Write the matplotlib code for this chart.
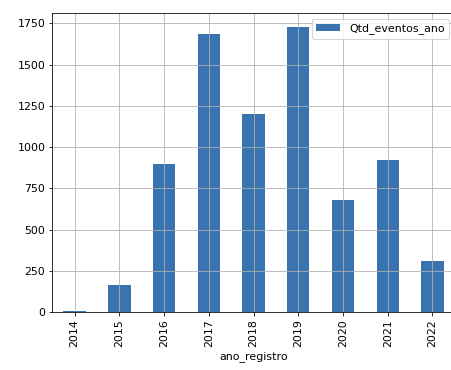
import matplotlib
matplotlib.use("Agg")
import matplotlib.pyplot as plt
import pandas as pd

anos = ["2014", "2015", "2016", "2017", "2018", "2019", "2020", "2021", "2022"]
qtd_eventos = [8, 163, 898, 1683, 1200, 1728, 678, 924, 308]

df = pd.DataFrame({"Qtd_eventos_ano": qtd_eventos}, index=pd.Index(anos, name="ano_registro"))

plt.rcParams["font.size"] = 11

# rendered at 72 dpi, like a notebook inline figure (right spine falls off the canvas)
fig = plt.figure(figsize=(451 / 72, 370 / 72), dpi=72)
ax = fig.add_axes([52.3 / 451, 1 - 312.3 / 370, 402.5 / 451, 299 / 370])
df.plot(kind="bar", ax=ax, color="#3a74b0", grid=True)
ax.set_ylim(0, 1810)
ax.spines["right"].set_visible(False)
ax.legend(loc="upper right", handlelength=2.2)
fig.savefig("out.png", dpi=72)
